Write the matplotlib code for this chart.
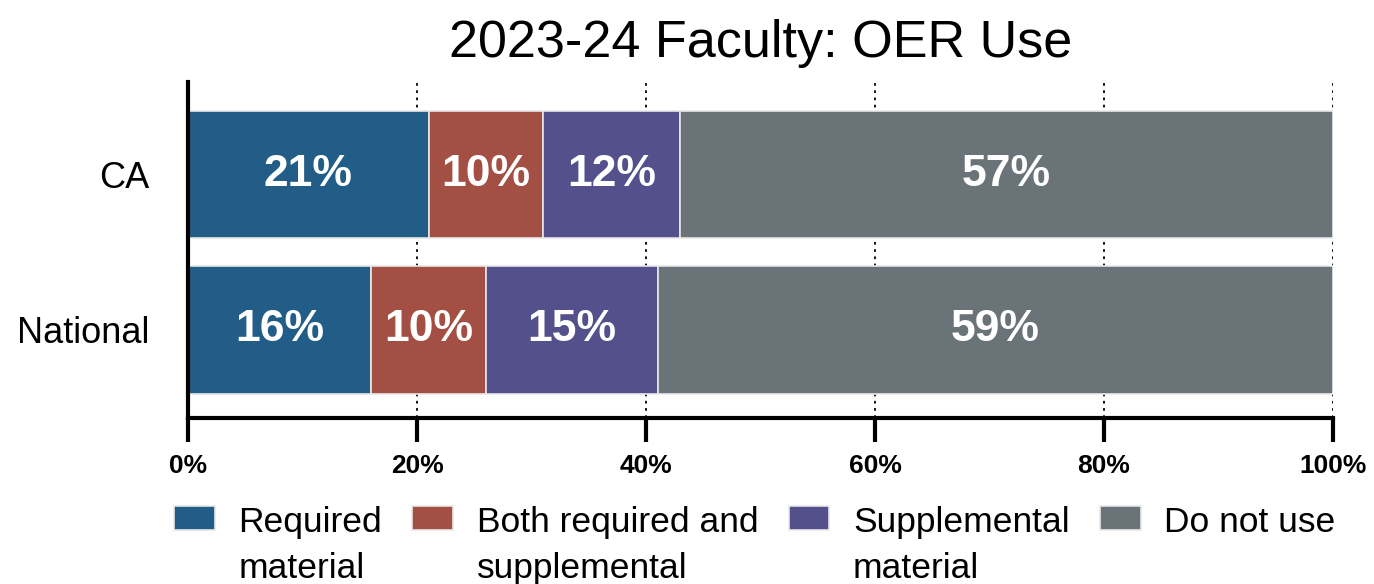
import matplotlib.pyplot as plt

# data
groups = ["National", "CA"]
series = ["Required\nmaterial", "Both required and\nsupplemental",
          "Supplemental\nmaterial", "Do not use"]
required = [16, 21]
both = [10, 10]
supplemental = [15, 12]
not_used = [59, 57]
colors = ["#215d87", "#a34f43", "#54508b", "#6a7478"]
ticks = [0, 20, 40, 60, 80, 100]

plt.rcParams['font.family'] = ['Liberation Sans', 'DejaVu Sans']

fig = plt.figure(figsize=(13.74, 5.84), dpi=100)
ax = fig.add_axes([0.137, 0.285, 0.833, 0.575])

values = [required, both, supplemental, not_used]
y = range(len(groups))
left = [0] * len(groups)
for vals, name, col in zip(values, series, colors):
    bars = ax.barh(y, vals, left=left, height=0.82, color=col,
                   edgecolor="#e8e8e8", linewidth=1.2, label=name, zorder=2)
    for b, v in zip(bars, vals):
        ax.text(b.get_x() + b.get_width() / 2, b.get_y() + b.get_height() / 2,
                f"{v}%", ha="center", va="center", color="white",
                fontsize=32, fontweight="bold", zorder=3)
    left = [l + v for l, v in zip(left, vals)]

ax.set_xlim(0, 100)
ax.set_ylim(-0.565, 1.6)
ax.set_xticks(ticks)
ax.set_xticklabels([f"{t}%" for t in ticks], fontsize=19, fontweight="bold")
ax.set_yticks(list(y))
ax.set_yticklabels(groups, fontsize=26)
ax.tick_params(axis="x", length=17, width=3, pad=9)
ax.tick_params(axis="y", length=0, pad=28)
ax.xaxis.grid(True, linestyle=(0, (1.5, 2.5)), color="black", linewidth=1.3, zorder=0)
ax.set_axisbelow(True)
for s in ["top", "right"]:
    ax.spines[s].set_visible(False)
for s in ["left", "bottom"]:
    ax.spines[s].set_linewidth(3)

ax.set_title("2023-24 Faculty: OER Use", fontsize=37.5, pad=18)

leg = ax.legend(loc="upper center", bbox_to_anchor=(0.495, -0.22), ncol=4,
                frameon=False, fontsize=25.5, handlelength=1.15, handleheight=0.67,
                handletextpad=0.67, columnspacing=0.85, borderaxespad=0)
for t in leg.get_texts():
    t.set_linespacing(1.5)
# patches sit level with the first line of text
leg._legend_handle_box.align = "top"
for col in leg._legend_handle_box.get_children():
    for item in col.get_children():
        item.align = "top"

fig.savefig("out.png", dpi=100)
